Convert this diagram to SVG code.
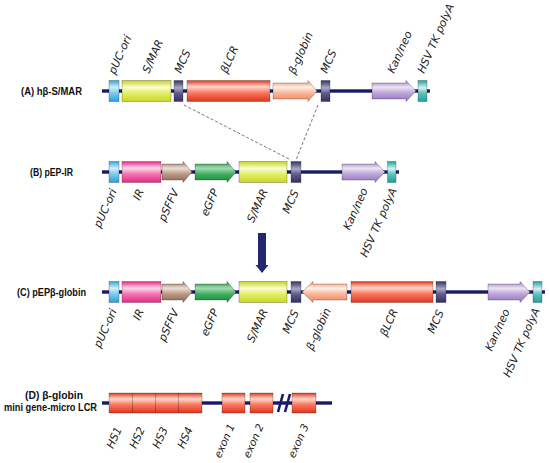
<svg xmlns="http://www.w3.org/2000/svg" width="550" height="463" viewBox="0 0 550 463">
<defs>
<linearGradient id="gBlue" x1="0" y1="0" x2="0" y2="1"><stop offset="0" stop-color="#2fa6dc"/><stop offset="0.32" stop-color="#d4eefa"/><stop offset="0.6" stop-color="#7ccbee"/><stop offset="1" stop-color="#2a9fd8"/></linearGradient>
<linearGradient id="gYel" x1="0" y1="0" x2="0" y2="1"><stop offset="0" stop-color="#c4d41c"/><stop offset="0.32" stop-color="#fafcd4"/><stop offset="0.6" stop-color="#e4ee6a"/><stop offset="1" stop-color="#c8d820"/></linearGradient>
<linearGradient id="gPur" x1="0" y1="0" x2="0" y2="1"><stop offset="0" stop-color="#363064"/><stop offset="0.35" stop-color="#aca8c6"/><stop offset="0.6" stop-color="#625c8e"/><stop offset="1" stop-color="#332d60"/></linearGradient>
<linearGradient id="gRed" x1="0" y1="0" x2="0" y2="1"><stop offset="0" stop-color="#e4381e"/><stop offset="0.3" stop-color="#ffd8cc"/><stop offset="0.58" stop-color="#f87a60"/><stop offset="1" stop-color="#e0341c"/></linearGradient>
<linearGradient id="gSal" x1="0" y1="0" x2="0" y2="1"><stop offset="0" stop-color="#f08a62"/><stop offset="0.32" stop-color="#fff0e8"/><stop offset="0.6" stop-color="#f9b496"/><stop offset="1" stop-color="#ee8660"/></linearGradient>
<linearGradient id="gLav" x1="0" y1="0" x2="0" y2="1"><stop offset="0" stop-color="#9878c0"/><stop offset="0.32" stop-color="#ece4f4"/><stop offset="0.6" stop-color="#bca4da"/><stop offset="1" stop-color="#9474bc"/></linearGradient>
<linearGradient id="gTeal" x1="0" y1="0" x2="0" y2="1"><stop offset="0" stop-color="#1ea69e"/><stop offset="0.35" stop-color="#d8f0f0"/><stop offset="0.6" stop-color="#5cc4bc"/><stop offset="1" stop-color="#1ca29a"/></linearGradient>
<linearGradient id="gPink" x1="0" y1="0" x2="0" y2="1"><stop offset="0" stop-color="#e62c88"/><stop offset="0.32" stop-color="#fcd8ea"/><stop offset="0.6" stop-color="#f274b2"/><stop offset="1" stop-color="#e42a86"/></linearGradient>
<linearGradient id="gBrown" x1="0" y1="0" x2="0" y2="1"><stop offset="0" stop-color="#8e6a54"/><stop offset="0.32" stop-color="#ecdfd6"/><stop offset="0.6" stop-color="#bc9884"/><stop offset="1" stop-color="#8a6650"/></linearGradient>
<linearGradient id="gGreen" x1="0" y1="0" x2="0" y2="1"><stop offset="0" stop-color="#1a8a3c"/><stop offset="0.32" stop-color="#a4dcb4"/><stop offset="0.6" stop-color="#40ae5e"/><stop offset="1" stop-color="#188638"/></linearGradient>
</defs>
<style>
.bb{fill:#1a1a6a;stroke:none}
.bk{stroke:#000;stroke-opacity:0.35;stroke-width:0.7}
.lbl{font-family:"DejaVu Sans",sans-serif;font-style:italic;font-size:11px;fill:#222}
.row{font-family:"Liberation Sans",Arial,sans-serif;font-weight:bold;font-size:11px;fill:#111;text-anchor:middle}
.rowd{font-size:10px}
.dash{stroke:#555;stroke-width:0.8;stroke-dasharray:3 2;fill:none}
.blue{fill:url(#gBlue)}.yel{fill:url(#gYel)}.pur{fill:url(#gPur)}.red{fill:url(#gRed)}.sal{fill:url(#gSal)}.lav{fill:url(#gLav)}.teal{fill:url(#gTeal)}.pink{fill:url(#gPink)}.brown{fill:url(#gBrown)}.green{fill:url(#gGreen)}
</style>
<rect width="550" height="463" fill="#fff"/>

<g id="connectors">
<line class="dash" x1="184" y1="105" x2="291" y2="160"/>
<line class="dash" x1="318" y1="105" x2="296" y2="160"/>
<path id="big-arrow" d="M258,233 H266 V265 H268.5 L262,273 L255.5,265 H258 Z" fill="#262670"/>
</g>

<g id="rowA">
<text class="row" x="51.5" y="95" textLength="61" lengthAdjust="spacingAndGlyphs">(A) hβ-S/MAR</text>
<rect class="bb" x="102" y="89.3" width="328" height="3.4"/>
<g id="A-puc"><rect class="blue bk" x="109" y="80.5" width="10" height="21"/><text class="lbl" transform="translate(115,75) rotate(-66)">pUC-ori</text></g>
<g id="A-smar"><rect class="yel bk" x="122" y="80.5" width="49" height="21"/><text class="lbl" transform="translate(149,74) rotate(-66)">S/MAR</text></g>
<g id="A-mcs1"><rect class="pur bk" x="174" y="80.5" width="9" height="21"/><text class="lbl" transform="translate(181,74) rotate(-66)">MCS</text></g>
<g id="A-lcr"><rect class="red bk" x="187" y="80.5" width="83" height="21"/><text class="lbl" transform="translate(227,74) rotate(-66)">βLCR</text></g>
<g id="A-glob"><path class="sal bk" d="M273,83 H308 V80.5 L317,91 L308,101.5 V99 H273 Z"/><text class="lbl" transform="translate(295,75) rotate(-66)">β-globin</text></g>
<g id="A-mcs2"><rect class="pur bk" x="321" y="80.5" width="9" height="21"/><text class="lbl" transform="translate(327,74) rotate(-66)">MCS</text></g>
<g id="A-kan"><path class="lav bk" d="M372,83 H406 V80.5 L416,91 L406,101.5 V99 H372 Z"/><text class="lbl" transform="translate(394,74) rotate(-66)">Kan/neo</text></g>
<g id="A-hsv"><rect class="teal bk" x="418" y="80.5" width="9" height="21"/><text class="lbl" transform="translate(424,74) rotate(-66)">HSV TK polyA</text></g>
</g>

<g id="rowB">
<text class="row" x="51.5" y="176" textLength="43" lengthAdjust="spacingAndGlyphs">(B) pEP-IR</text>
<rect class="bb" x="102" y="170.3" width="297" height="3.4"/>
<g id="B-puc"><rect class="blue bk" x="109" y="161.5" width="10" height="21"/><text class="lbl" text-anchor="end" transform="translate(117,191) rotate(-66)">pUC-ori</text></g>
<g id="B-ir"><rect class="pink bk" x="122" y="161.5" width="39" height="21"/><text class="lbl" text-anchor="end" transform="translate(144,191) rotate(-66)">IR</text></g>
<g id="B-sffv"><path class="brown bk" d="M162,164 H183 V161.5 L192,172 L183,182.5 V180 H162 Z"/><text class="lbl" text-anchor="end" transform="translate(179,191) rotate(-66)">pSFFV</text></g>
<g id="B-gfp"><path class="green bk" d="M195,164 H227 V161.5 L236,172 L227,182.5 V180 H195 Z"/><text class="lbl" text-anchor="end" transform="translate(219,191) rotate(-66)">eGFP</text></g>
<g id="B-smar"><rect class="yel bk" x="239" y="161.5" width="48" height="21"/><text class="lbl" text-anchor="end" transform="translate(268,191) rotate(-66)">S/MAR</text></g>
<g id="B-mcs"><rect class="pur bk" x="291" y="161.5" width="10" height="21"/><text class="lbl" text-anchor="end" transform="translate(299,192) rotate(-66)">MCS</text></g>
<g id="B-kan"><path class="lav bk" d="M342,164 H375 V161.5 L385,172 L375,182.5 V180 H342 Z"/><text class="lbl" text-anchor="end" transform="translate(368,190) rotate(-66)">Kan/neo</text></g>
<g id="B-hsv"><rect class="teal bk" x="387.5" y="161.5" width="8.5" height="21"/><text class="lbl" text-anchor="end" transform="translate(397,190) rotate(-66)">HSV TK polyA</text></g>
</g>

<g id="rowC">
<text class="row" x="51.5" y="296" textLength="69" lengthAdjust="spacingAndGlyphs">(C) pEPβ-globin</text>
<rect class="bb" x="102" y="290.3" width="443" height="3.4"/>
<g id="C-puc"><rect class="blue bk" x="109" y="281.5" width="10" height="21"/><text class="lbl" text-anchor="end" transform="translate(117,311) rotate(-66)">pUC-ori</text></g>
<g id="C-ir"><rect class="pink bk" x="122" y="281.5" width="39" height="21"/><text class="lbl" text-anchor="end" transform="translate(144,311) rotate(-66)">IR</text></g>
<g id="C-sffv"><path class="brown bk" d="M162,284 H183 V281.5 L192,292 L183,302.5 V300 H162 Z"/><text class="lbl" text-anchor="end" transform="translate(179,311) rotate(-66)">pSFFV</text></g>
<g id="C-gfp"><path class="green bk" d="M195,284 H227 V281.5 L236,292 L227,302.5 V300 H195 Z"/><text class="lbl" text-anchor="end" transform="translate(219,311) rotate(-66)">eGFP</text></g>
<g id="C-smar"><rect class="yel bk" x="239" y="281.5" width="48" height="21"/><text class="lbl" text-anchor="end" transform="translate(268,311) rotate(-66)">S/MAR</text></g>
<g id="C-mcs1"><rect class="pur bk" x="291" y="281.5" width="10" height="21"/><text class="lbl" text-anchor="end" transform="translate(299,312) rotate(-66)">MCS</text></g>
<g id="C-glob"><path class="sal bk" d="M347,284 H313 V281.5 L302,292 L313,302.5 V300 H347 Z"/><text class="lbl" text-anchor="end" transform="translate(331,310) rotate(-66)">β-globin</text></g>
<g id="C-lcr"><rect class="red bk" x="351" y="281.5" width="82" height="21"/><text class="lbl" text-anchor="end" transform="translate(398,311) rotate(-66)">βLCR</text></g>
<g id="C-mcs2"><rect class="pur bk" x="436" y="281.5" width="10" height="21"/><text class="lbl" text-anchor="end" transform="translate(444,312) rotate(-66)">MCS</text></g>
<g id="C-kan"><path class="lav bk" d="M488,284 H520 V281.5 L530,292 L520,302.5 V300 H488 Z"/><text class="lbl" text-anchor="end" transform="translate(510,311) rotate(-66)">Kan/neo</text></g>
<g id="C-hsv"><rect class="teal bk" x="533" y="281.5" width="9" height="21"/><text class="lbl" text-anchor="end" transform="translate(540,310) rotate(-66)">HSV TK polyA</text></g>
</g>

<g id="rowD">
<text class="row rowd" x="54" y="399" textLength="58" lengthAdjust="spacingAndGlyphs">(D) β-globin</text>
<text class="row rowd" x="50.5" y="410.5" textLength="93" lengthAdjust="spacingAndGlyphs">mini gene-micro LCR</text>
<rect class="bb" x="102" y="401.3" width="230" height="3.4"/>
<g id="D-hs"><rect class="red bk" x="109" y="393" width="93" height="20"/>
<line x1="132.5" y1="393" x2="132.5" y2="413" stroke="#000" stroke-opacity="0.35" stroke-width="0.7"/>
<line x1="155.5" y1="393" x2="155.5" y2="413" stroke="#000" stroke-opacity="0.35" stroke-width="0.7"/>
<line x1="178.5" y1="393" x2="178.5" y2="413" stroke="#000" stroke-opacity="0.35" stroke-width="0.7"/>
<text class="lbl" text-anchor="end" transform="translate(122,429) rotate(-66)">HS1</text>
<text class="lbl" text-anchor="end" transform="translate(145,429) rotate(-66)">HS2</text>
<text class="lbl" text-anchor="end" transform="translate(168,429) rotate(-66)">HS3</text>
<text class="lbl" text-anchor="end" transform="translate(193,429) rotate(-66)">HS4</text></g>
<g id="D-ex1"><rect class="red bk" x="222" y="393" width="23" height="20"/><text class="lbl" text-anchor="end" style="font-size:10.5px" transform="translate(235,426) rotate(-66)">exon 1</text></g>
<g id="D-ex2"><rect class="red bk" x="250" y="393" width="23" height="20"/><text class="lbl" text-anchor="end" style="font-size:10.5px" transform="translate(264,426) rotate(-66)">exon 2</text></g>
<g id="D-break"><line x1="278" y1="412" x2="283" y2="394" stroke="#1a1a6a" stroke-width="2.6"/><line x1="285" y1="412" x2="290" y2="394" stroke="#1a1a6a" stroke-width="2.6"/></g>
<g id="D-ex3"><rect class="red bk" x="292" y="393" width="24" height="20"/><text class="lbl" text-anchor="end" style="font-size:10.5px" transform="translate(309,426) rotate(-66)">exon 3</text></g>
</g>
</svg>
